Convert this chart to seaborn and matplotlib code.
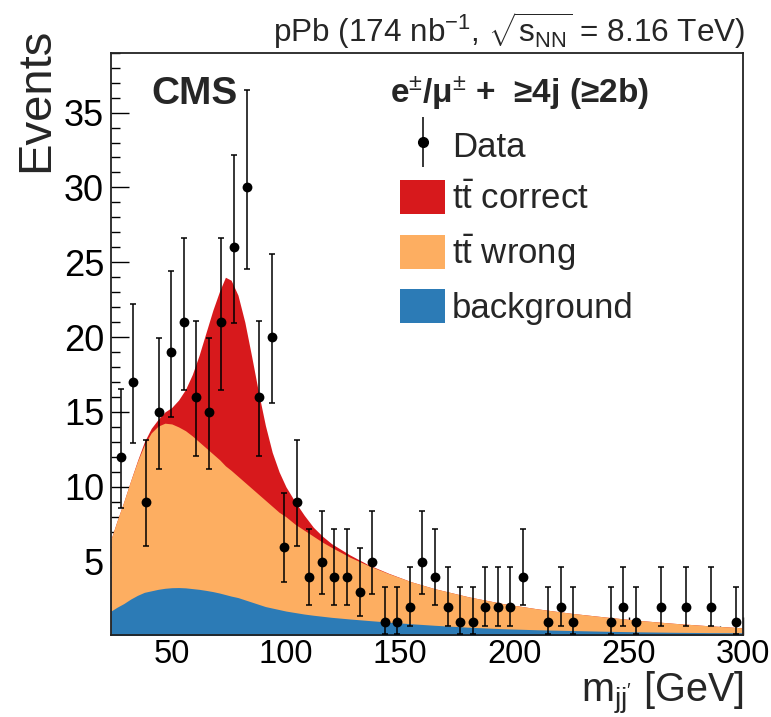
import numpy as np
import matplotlib
matplotlib.use("Agg")
import matplotlib.pyplot as plt
import seaborn as sns
from matplotlib.patches import Patch
from matplotlib.lines import Line2D
from matplotlib.ticker import MultipleLocator

# ---------------- data ----------------
bin_edges_range = (25.0, 300.0)
n_bins = 50
counts = [12, 17, 9, 15, 19, 21, 16, 15, 21, 26,
          30, 16, 20, 6, 9, 4, 5, 4, 4, 3,
          5, 1, 1, 2, 5, 4, 2, 1, 1, 2,
          2, 2, 4, 0, 1, 2, 1, 0, 0, 1,
          2, 1, 0, 2, 0, 2, 0, 2, 0, 1]

# fitted templates, stacked tops
curve_x = [23.4, 26, 29, 32, 35, 38, 41, 44, 47, 50, 53, 56, 59, 62, 65, 68, 71, 73.5,
           76, 79, 82, 85, 88, 91, 94, 97, 100, 104, 108, 112, 116, 120, 128, 136, 145,
           155, 165, 180, 195, 210, 225, 240, 255, 270, 285, 300]
bkg_top = [1.7, 1.95, 2.2, 2.5, 2.75, 2.95, 3.05, 3.15, 3.22, 3.26, 3.27, 3.25, 3.2, 3.15,
           3.08, 3.0, 2.9, 2.8, 2.7, 2.6, 2.45, 2.3, 2.15, 2.0, 1.9, 1.8, 1.7, 1.6, 1.5,
           1.42, 1.35, 1.28, 1.17, 1.07, 0.96, 0.85, 0.75, 0.62, 0.52, 0.45, 0.4, 0.35,
           0.31, 0.28, 0.26, 0.25]
wrong_top = [6.5, 7.7, 9.0, 10.4, 11.7, 12.8, 13.6, 14.05, 14.25, 14.2, 14.0, 13.75, 13.4,
             13.0, 12.6, 12.2, 11.8, 11.4, 11.1, 10.7, 10.3, 9.9, 9.5, 9.1, 8.7, 8.3, 8.0,
             7.5, 7.1, 6.7, 6.3, 5.95, 5.3, 4.75, 4.2, 3.65, 3.2, 2.65, 2.2, 1.85, 1.55,
             1.3, 1.07, 0.88, 0.72, 0.58]
correct_top = [6.5, 7.7, 9.0, 10.4, 11.75, 13.0, 13.9, 14.5, 15.0, 15.3, 15.8, 16.5, 17.5,
               18.8, 20.3, 21.8, 23.1, 24.0, 23.8, 22.8, 21.0, 18.7, 16.3, 14.1, 12.3,
               11.0, 10.0, 9.0, 8.1, 7.3, 6.7, 6.2, 5.45, 4.8, 4.22, 3.65, 3.2, 2.65, 2.2,
               1.85, 1.55, 1.3, 1.07, 0.88, 0.72, 0.58]

labels = ["Data", r"t$\bar{\mathrm{t}}$ correct", r"t$\bar{\mathrm{t}}$ wrong", "background"]
colors = {"correct": "#d7191c", "wrong": "#fdae61", "bkg": "#2c7bb6"}

# ---------------- style ----------------
sns.set_theme(style="ticks")
plt.rcParams["font.family"] = ["Liberation Sans", "DejaVu Sans"]
plt.rcParams["mathtext.fontset"] = "custom"
plt.rcParams["mathtext.rm"] = "Liberation Sans"
plt.rcParams["mathtext.it"] = "Liberation Sans:italic"
plt.rcParams["mathtext.bf"] = "Liberation Sans:bold"

fig = plt.figure(figsize=(7.71, 7.17), dpi=100)
ax = fig.add_axes([111 / 771, 1 - 635 / 717, (742.7 - 111) / 771, (635 - 52.7) / 717])

cx = np.array(curve_x)
ax.fill_between(cx, 0, correct_top, color=colors["correct"], lw=0, zorder=1)
ax.fill_between(cx, 0, wrong_top, color=colors["wrong"], lw=0, zorder=1.1)
ax.fill_between(cx, 0, bkg_top, color=colors["bkg"], lw=0, zorder=1.2)

# data with Poisson (Garwood) intervals
edges = np.linspace(bin_edges_range[0], bin_edges_range[1], n_bins + 1)
centers = 0.5 * (edges[:-1] + edges[1:])
n = np.array(counts, dtype=float)
mask = n > 0
nn = n[mask]
lo = nn * (1 - 1 / (9 * nn) - 1 / (3 * np.sqrt(nn))) ** 3
up = (nn + 1) * (1 - 1 / (9 * (nn + 1)) + 1 / (3 * np.sqrt(nn + 1))) ** 3
ax.errorbar(centers[mask], nn, yerr=[nn - lo, up - nn], fmt="none", ecolor="black",
            elinewidth=1.1, capsize=2.2, capthick=1.1, zorder=3)
sns.scatterplot(x=centers[mask], y=nn, color="black", s=50, edgecolor="black",
                linewidth=0, ax=ax, zorder=4, legend=False)

ax.set_xlim(23.4, 300)
ax.set_ylim(0.1, 39)
ax.xaxis.set_major_locator(MultipleLocator(50))
ax.xaxis.set_minor_locator(MultipleLocator(10))
ax.yaxis.set_major_locator(MultipleLocator(5))
ax.yaxis.set_minor_locator(MultipleLocator(1))
ax.set_yticks([5, 10, 15, 20, 25, 30, 35])
ax.tick_params(which="both", direction="in", top=False, right=False, colors="black",
               width=1.0)
ax.tick_params(axis="y", labelsize=26)
ax.tick_params(axis="x", labelsize=23.5)
ax.tick_params(which="major", length=13, pad=5)
ax.tick_params(which="minor", length=6.5)
ax.tick_params(axis="x", which="major", pad=3)
for s in ax.spines.values():
    s.set_linewidth(1.3)
    s.set_color("#222222")
ax.set_xlabel("")
ax.set_ylabel("")

fig.text(36 / 771, 1 - 28 / 717, "Events", rotation=90, ha="center", va="top", fontsize=34)
fig.text(744 / 771, 1 - 702 / 717, r"m$_{\mathrm{jj'}}$ [GeV]", ha="right", va="baseline",
         fontsize=28.5)
fig.text(745 / 771, 1 - 42 / 717,
         r"pPb (174 nb$^{\mathrm{-1}}$, $\sqrt{\mathrm{s}_{\mathrm{NN}}}$ = 8.16 TeV)",
         ha="right", va="baseline", fontsize=22.7)
fig.text(151 / 771, 1 - 104 / 717, "CMS", ha="left", va="baseline", fontsize=28,
         fontweight="bold")
fig.text(390 / 771, 1 - 103 / 717,
         r"e$^{\pm}$/$\mathregular{\mu}^{\pm}$ +  ≥4j (≥2b)",
         ha="left", va="baseline", fontsize=24, fontweight="bold")

data_handle = (Line2D([], [], marker="|", markersize=36, color="black", ls="none",
                      markeredgewidth=1.1),
               Line2D([], [], marker="o", markersize=7, color="black", ls="none"))
handles = [data_handle,
           Patch(facecolor=colors["correct"], edgecolor="none"),
           Patch(facecolor=colors["wrong"], edgecolor="none"),
           Patch(facecolor=colors["bkg"], edgecolor="none")]
leg = ax.legend(handles, labels, loc="upper left",
                bbox_to_anchor=(400 / 771, 1 - 128 / 717), bbox_transform=fig.transFigure,
                frameon=False, fontsize=25, handlelength=1.3, handleheight=1.15,
                handletextpad=0.2, labelspacing=0.46, borderpad=0, borderaxespad=0)

fig.savefig("out.png", dpi=100)
